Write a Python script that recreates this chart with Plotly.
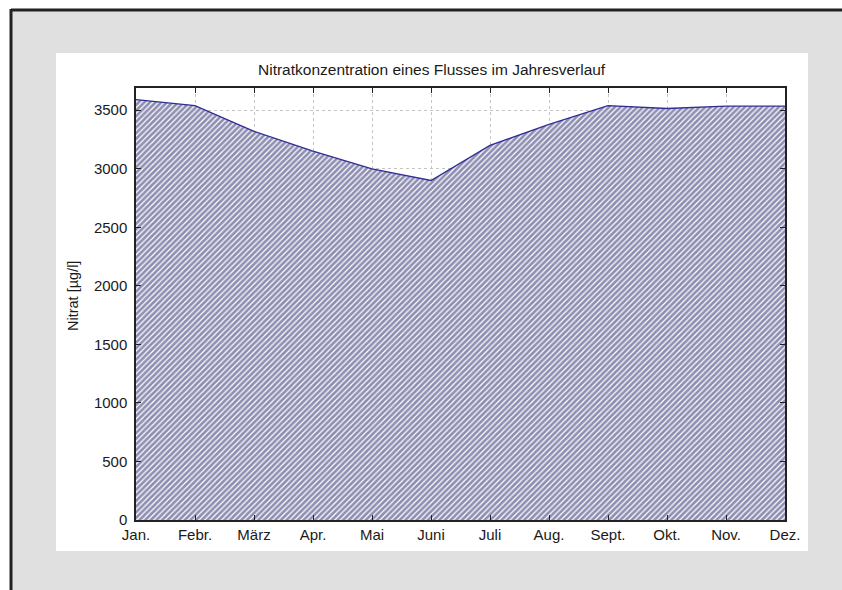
import plotly.graph_objects as go

months = ["Jan.", "Febr.", "März", "Apr.", "Mai", "Juni", "Juli", "Aug.", "Sept.", "Okt.", "Nov.", "Dez."]
nitrat = [3590, 3540, 3320, 3150, 3000, 2900, 3200, 3380, 3540, 3515, 3535, 3535]
y_ticks = [0, 500, 1000, 1500, 2000, 2500, 3000, 3500]

W, H = 842, 590
L, R, T, B = 136, 785, 88, 520

def px(x):
    return (x - L) / (R - L)

def py(y):
    return (B - y) / (B - T)

fig = go.Figure()
fig.add_trace(go.Scatter(
    x=months, y=nitrat, mode="lines", fill="tozeroy",
    line=dict(color="#2e2e96", width=1.3),
    fillcolor="white",
    fillpattern=dict(shape="/", size=4, solidity=0.7, fgcolor="#1e1e66", bgcolor="white"),
    showlegend=False,
))

font = "Liberation Sans, Arial, sans-serif"

fig.update_layout(
    width=W, height=H,
    margin=dict(l=L, r=W - R, t=T, b=H - B, pad=0),
    paper_bgcolor="white", plot_bgcolor="white",
    font=dict(family=font, size=15, color="#1a1a1a"),
    xaxis=dict(
        type="category", range=[0, len(months) - 1],
        showgrid=True, gridcolor="#c4c4c4", griddash="dot", gridwidth=1,
        ticks="inside", ticklen=5, tickcolor="#222", mirror="allticks",
        showline=True, linecolor="#222", linewidth=1.5,
        tickfont=dict(size=15), zeroline=False,
    ),
    yaxis=dict(
        range=[0, 3690], tickvals=y_ticks,
        showgrid=True, gridcolor="#c4c4c4", griddash="dot", gridwidth=1,
        ticks="inside", ticklen=5, tickcolor="#222", mirror="allticks",
        showline=True, linecolor="#222", linewidth=1.5,
        tickfont=dict(size=15), zeroline=False, ticklabelstandoff=4,
    ),
    shapes=[
        dict(type="rect", xref="paper", yref="paper", layer="below",
             x0=px(11), x1=px(900), y0=py(10), y1=py(650),
             fillcolor="#e0e0e0", line=dict(width=0)),
        dict(type="line", xref="paper", yref="paper", layer="below",
             x0=px(11), x1=px(900), y0=py(10), y1=py(10),
             line=dict(color="#222", width=3)),
        dict(type="line", xref="paper", yref="paper", layer="below",
             x0=px(11), x1=px(11), y0=py(9), y1=py(650),
             line=dict(color="#222", width=3)),
        dict(type="rect", xref="paper", yref="paper", layer="below",
             x0=px(56), x1=px(808), y0=py(53), y1=py(551),
             fillcolor="white", line=dict(width=0)),
    ],
    annotations=[
        dict(text="Nitratkonzentration eines Flusses im Jahresverlauf",
             xref="paper", yref="paper", x=px(432), y=py(70),
             showarrow=False, font=dict(size=15.5), xanchor="center", yanchor="middle"),
        dict(text="Nitrat [µg/l]", xref="paper", yref="paper",
             x=px(73), y=py(296), textangle=-90, showarrow=False,
             font=dict(size=14.5), xanchor="center", yanchor="middle"),
    ],
)

fig.write_html(
    "out.html", config={"displayModeBar": False},
    post_script=("document.documentElement.style.overflow='hidden';"
                 "document.body.style.margin='0';document.body.style.overflow='hidden';"),
)
